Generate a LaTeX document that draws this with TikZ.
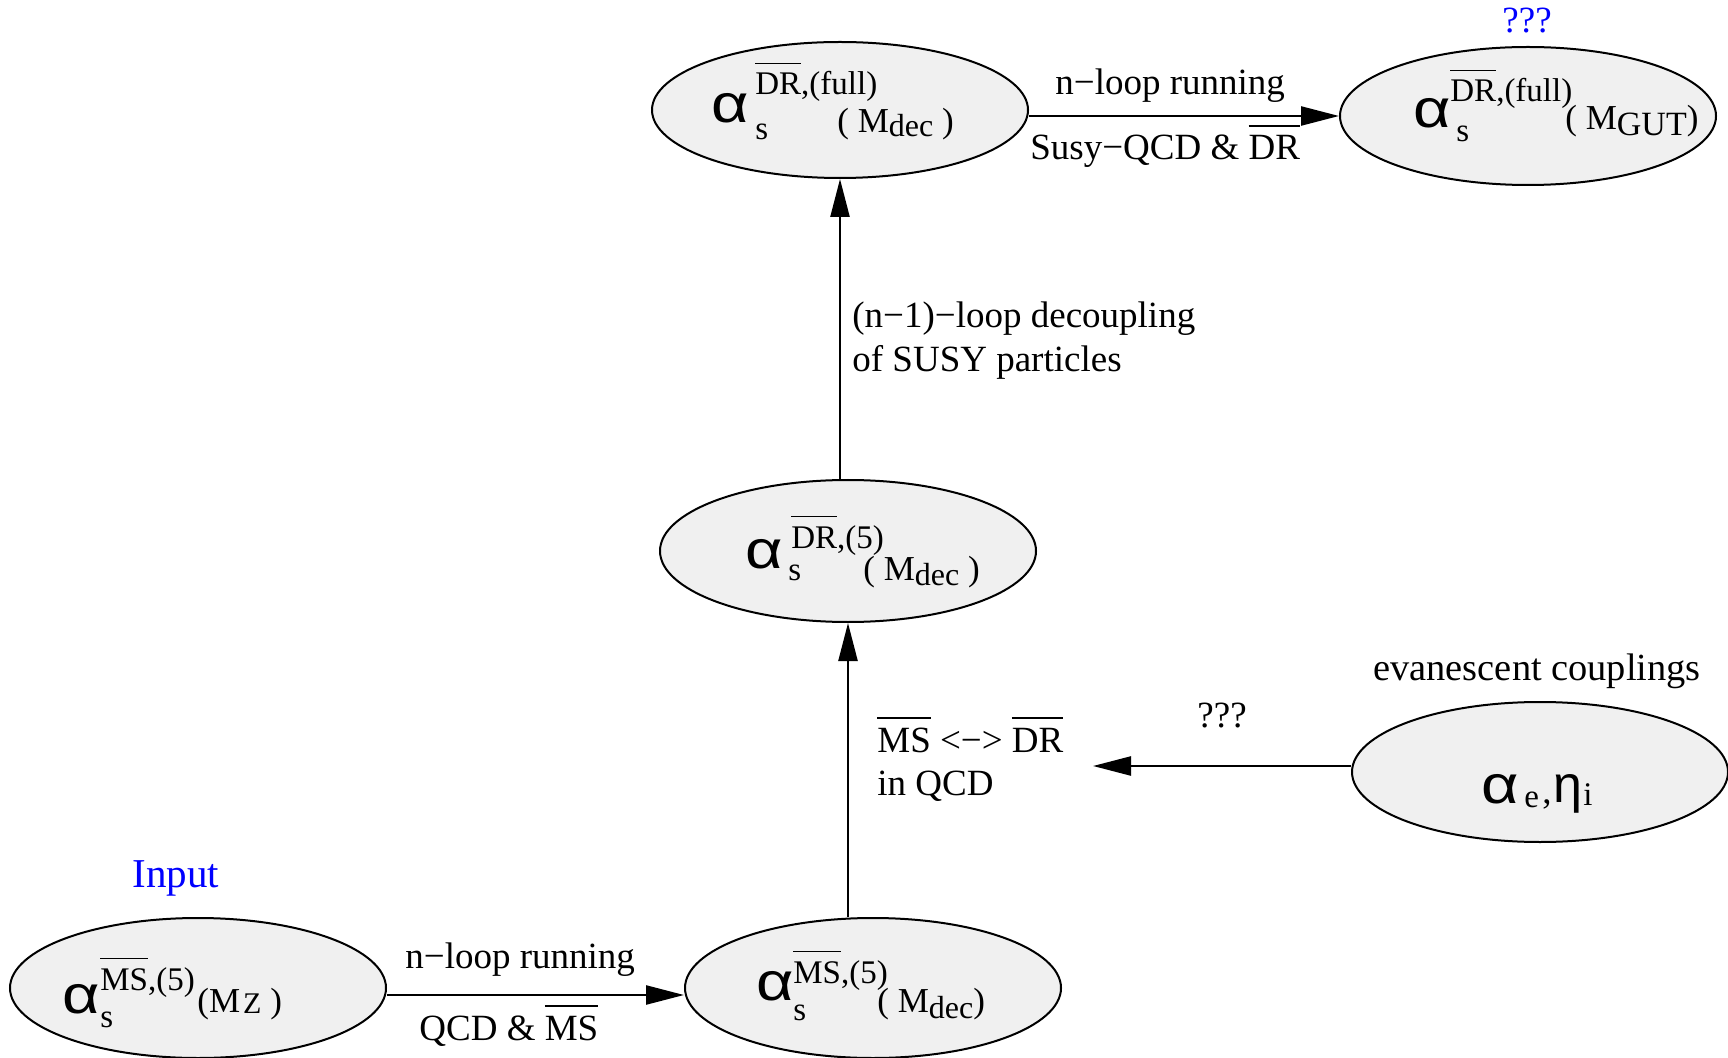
\documentclass[tikz,border=0pt]{standalone}
\usepackage{fontspec}
\usepackage{graphicx}
\setmainfont{Liberation Serif}
\newfontfamily\grk{Liberation Sans}
\usetikzlibrary{shapes.geometric,arrows.meta,calc}
\definecolor{ellfill}{RGB}{240,240,240}
\newcommand{\fsz}[1]{\fontsize{#1}{#1}\selectfont}
\newcommand{\ovl}[1]{\vbox{\hrule height 0.7pt\kern 4.5pt\hbox{#1}}}
\newcommand{\alf}{{\grk\fsz{27}\scalebox{1.2}[1]{α}}}
\newcommand{\etaa}{{\grk\fsz{26}η}}
\newcommand{\mn}{−}
\tikzset{
  ell/.style={ellipse, draw=black, line width=1pt, fill=ellfill,
    minimum width=188pt, minimum height=70pt, inner sep=0pt},
  txt/.style={anchor=base west, inner sep=0pt, font=\fsz{18.5}},
  scr/.style={anchor=base west, inner sep=0pt, font=\fsz{16.5}},
  gk/.style={anchor=base west, inner sep=0pt},
  arr/.style={-{Triangle[length=19pt,width=9.5pt]}, line width=1.2pt},
}
\begin{document}
\begin{tikzpicture}[x=0.5pt,y=-0.5pt]
\useasboundingbox (0,0) rectangle (1728,1058);

% ellipses
\node[ell, minimum height=68pt] (A) at (840,110) {};
\node[ell, minimum height=69pt] (B) at (1528,116) {};
\node[ell, minimum height=71pt] (C) at (848,551) {};
\node[ell] (D) at (198,988) {};
\node[ell] (E) at (873,988) {};
\node[ell] (F) at (1540,772) {};

% ellipse A contents
\node[gk] (Aa) at (711,123) {\alf};
\node[scr] (As) at (755,140) {s};
\node[scr] (Au) at (755,95) {\ovl{DR},(full)};
\node[txt, font=\fsz{17.5}] (Am) at (837,133) {( M\raisebox{-2pt}{\fsz{16}dec} )};

% ellipse B contents
\node[gk] (Ba) at (1413,128) {\alf};
\node[scr] (Bs) at (1456,142) {s};
\node[scr] (Bu) at (1450,102) {\ovl{DR},(full)};
\node[txt, font=\fsz{17.5}] (Bm) at (1565,130) {( M\raisebox{-3pt}{\fsz{17}GUT})};
\node[txt, text=blue] (Bq) at (1502,33) {???};

% ellipse C contents
\node[gk] (Ca) at (745,568) {\alf};
\node[scr] (Cs) at (788,580) {s};
\node[scr] (Cu) at (791,548) {\ovl{DR},(5)};
\node[txt, font=\fsz{17.5}] (Cm) at (863,580) {( M\raisebox{-2.5pt}{\fsz{16}dec} )};

% ellipse D contents
\node[gk] (Da) at (62,1013) {\alf};
\node[scr] (Ds) at (100,1027) {s};
\node[scr] (Du) at (100,990) {\ovl{MS},(5)};
\node[txt, font=\fsz{17.5}] (Dm) at (197,1012) {(M\kern1.5pt\raisebox{-0.5pt}{\fsz{15}Z} )};
\node[txt, text=blue, font=\fsz{20.5}] (Din) at (132,887) {Input};

% ellipse E contents
\node[gk] (Ea) at (756,1000) {\alf};
\node[scr] (Es) at (793,1020) {s};
\node[scr] (Eu) at (793,983) {\ovl{MS},(5)};
\node[txt, font=\fsz{17.5}] (Em) at (877,1012) {( M\raisebox{-3pt}{\fsz{16}dec})};

% ellipse F contents
\node[gk] (Fa) at (1481,803) {\alf};
\node[scr] (Fe) at (1524,807) {e};
\node[txt] (Fc) at (1542,803) {,};
\node[gk] (Fn) at (1553,802) {\etaa};
\node[scr] (Fi) at (1583,805) {i};
\node[txt, font=\fsz{19.2}] (Fl) at (1373,680) {evanescent couplings};

% connectors
\coordinate (Q) at (1093,766);
\draw[arr] ([yshift=-3.5pt]D.east) -- ([yshift=-3.5pt]E.west);
\draw[arr] (E.north -| C.south) -- (C.south);
\draw[arr] (C.north -| A.south) -- (A.south);
\draw[arr] (A.east |- B.west) -- (B.west);
\draw[arr] (F.west |- Q) -- (Q);

% connector labels
\node[txt] (l1) at (405,968) {n\mn loop running};
\node[txt] (l2) at (419,1040) {QCD \& \ovl{MS}};
\node[txt] (l3) at (877,752) {\ovl{MS} <\mn> \ovl{DR}};
\node[txt] (l4) at (877,795) {in QCD};
\node[txt] (l5) at (852,328) {(n\mn 1)\mn loop decoupling};
\node[txt] (l6) at (852,372) {of SUSY particles};
\node[txt] (l7) at (1055,95) {n\mn loop running};
\node[txt] (l8) at (1030,160) {Susy\mn QCD \& \ovl{DR}};
\node[txt] (l9) at (1197,727) {???};
\end{tikzpicture}
\end{document}
